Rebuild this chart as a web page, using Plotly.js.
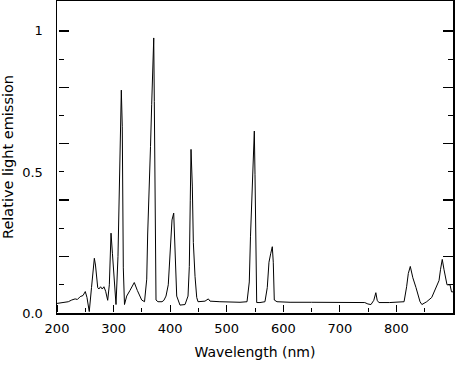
<!DOCTYPE html>
<html>
<head>
<meta charset="utf-8">
<script src="https://cdn.plot.ly/plotly-3.0.1.min.js"></script>
<style>html,body{margin:0;padding:0;background:#fff}#chart{width:465px;height:365px}</style>
</head>
<body>
<div id="chart"></div>
<script>
const wavelength = [200,210,220,226,232,236,241,246,250,253,257,261,266,268,272,274,277,280,283,286,289.6,292.5,295.5,298,301.3,304.3,307.8,309.6,311.9,313.7,315.4,317.2,319.3,323.2,329,336.6,342,349.7,354.7,358.6,360.3,363.5,365.3,367.4,369.2,371,372,375,378.5,385.6,389,392.7,396.7,401,403.3,406.3,408.6,411.6,417.4,426.3,431.6,433.9,435.6,436.9,439.2,441,444,447,449.3,461.6,467.5,470.5,488,505.8,523.5,535.9,539.9,542,544.2,546.5,548.8,550,551.8,553,558.8,567.6,571.7,574.7,577.7,580.6,582.3,584.1,588.9,611.9,650,682.6,700,735.6,744,749.6,755,760,763.6,766,769,788,797.5,813.5,818,821,824.5,829,834.6,841.7,845,853.5,862.4,871.2,875.3,878,881,884,887.6,889.4,894.7,897.4,900];
const emission = [0.034,0.036,0.040,0.046,0.050,0.048,0.058,0.062,0.076,0.055,0.005,0.09,0.194,0.17,0.09,0.085,0.093,0.085,0.093,0.077,0.045,0.10,0.283,0.21,0.12,0.03,0.20,0.42,0.66,0.79,0.66,0.16,0.03,0.06,0.08,0.108,0.08,0.046,0.04,0.12,0.28,0.45,0.59,0.74,0.90,0.975,0.75,0.046,0.04,0.04,0.045,0.06,0.10,0.27,0.33,0.354,0.20,0.06,0.028,0.03,0.06,0.165,0.40,0.58,0.45,0.25,0.13,0.055,0.04,0.042,0.05,0.042,0.04,0.038,0.038,0.04,0.11,0.27,0.42,0.57,0.645,0.49,0.19,0.037,0.037,0.04,0.09,0.18,0.21,0.235,0.18,0.046,0.04,0.038,0.038,0.038,0.038,0.039,0.037,0.032,0.03,0.045,0.072,0.045,0.037,0.037,0.039,0.04,0.093,0.14,0.165,0.125,0.09,0.04,0.03,0.04,0.055,0.10,0.115,0.155,0.19,0.155,0.11,0.10,0.10,0.075,0.075];
const xTickVals = [200,300,400,500,600,700,800,900];
const xTickText = ["200","300","400","500","600","700","800","900"];
const xMinorTicks = [250,350,450,550,650,750,850];
const yTickVals = [0,0.5,1];
const yTickText = ["0.0","0.5","1"];
const yLongTicks = [0.2,0.4,0.6,0.8,1];
const yShortTicks = [0.1,0.3,0.5,0.7,0.9];
const xRange = [200, 900];
const yRange = [0, 1.106];
const xTitle = "Wavelength (nm)";
const yTitle = "Relative light emission";

const font = {family: "DejaVu Sans, Liberation Sans, sans-serif", size: 13, color: "#000"};

// invisible helper axes carry the inward-pointing tick marks
const tickAxisY = (side, pos, len) => ({
  overlaying: "y", anchor: "free", position: pos, side: side, range: yRange,
  tickmode: "array", tickvals: yLongTicks, ticks: "outside", ticklen: len, tickwidth: 1.5, tickcolor: "#000",
  minor: {tickmode: "array", tickvals: yShortTicks, ticks: "outside", ticklen: 5, tickwidth: 1, tickcolor: "#000"},
  showticklabels: false, showline: false, showgrid: false, zeroline: false, fixedrange: true
});

Plotly.newPlot("chart", [
  {x: wavelength, y: emission, type: "scatter", mode: "lines",
   line: {color: "#000", width: 1}, hoverinfo: "skip"},
  {x: [], y: [], type: "scatter", mode: "lines", xaxis: "x", yaxis: "y2", hoverinfo: "skip"},
  {x: [], y: [], type: "scatter", mode: "lines", xaxis: "x", yaxis: "y3", hoverinfo: "skip"},
  {x: [], y: [], type: "scatter", mode: "lines", xaxis: "x2", yaxis: "y", hoverinfo: "skip"}
], {
  width: 465, height: 365,
  margin: {l: 57, r: 12, t: 1, b: 52},
  paper_bgcolor: "#fff", plot_bgcolor: "rgba(0,0,0,0)",
  showlegend: false,
  font: font,
  xaxis: {
    range: xRange, tickmode: "array", tickvals: xTickVals, ticktext: xTickText, ticks: "",
    showline: true, linecolor: "#000", linewidth: 1.5, mirror: true,
    showgrid: false, zeroline: false, tickfont: font, ticklabelstandoff: 3,
    title: {text: xTitle, font: {family: font.family, size: 14, color: "#000"}, standoff: 12}
  },
  xaxis2: {
    overlaying: "x", anchor: "free", position: 0.002, side: "top", range: xRange,
    tickmode: "array", tickvals: xTickVals, ticks: "outside", ticklen: 7, tickwidth: 1, tickcolor: "#000",
    minor: {tickmode: "array", tickvals: xMinorTicks, ticks: "outside", ticklen: 4, tickwidth: 1, tickcolor: "#000"},
    showticklabels: false, showline: false, showgrid: false, zeroline: false
  },
  yaxis: {
    range: yRange, tickmode: "array", tickvals: yTickVals, ticktext: yTickText, ticks: "",
    showline: true, linecolor: "#000", linewidth: 1.5, mirror: true,
    showgrid: false, zeroline: false, tickfont: font, ticklabelstandoff: 10,
    title: {text: yTitle, font: {family: font.family, size: 14.5, color: "#000"}, standoff: 8}
  },
  yaxis2: tickAxisY("right", 0.002, 10),
  yaxis3: tickAxisY("left", 1, 10)
}, {staticPlot: true});
</script>
</body>
</html>
